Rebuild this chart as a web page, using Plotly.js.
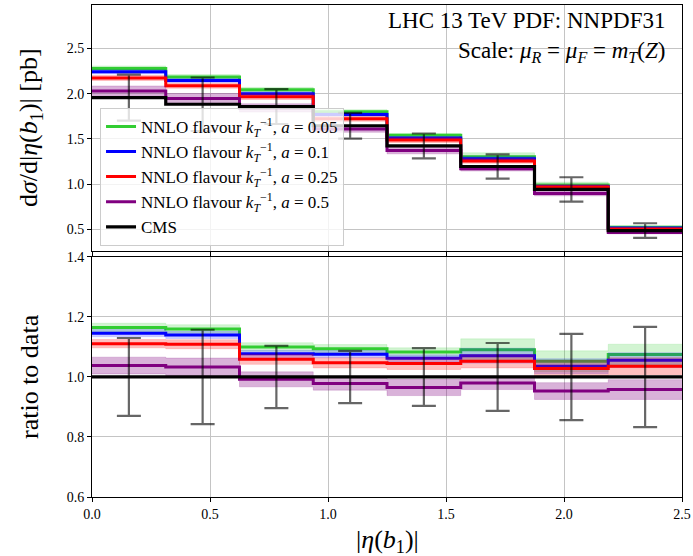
<!DOCTYPE html>
<html>
<head>
<meta charset="utf-8">
<script src="https://cdn.plot.ly/plotly-3.0.1.min.js"></script>
<style>html,body{margin:0;padding:0;background:#fff;}</style>
</head>
<body>
<div id="chart" style="width:693px;height:556px;"></div>
<script>
// bin edges in |eta(b1)|
var edges = [0, 0.3125, 0.625, 0.9375, 1.25, 1.5625, 1.875, 2.1875, 2.5];
// CMS data [pb] and absolute uncertainty [pb]
var cms    = [1.956, 1.883, 1.857, 1.645, 1.422, 1.194, 0.940, 0.485];
var cmsErr = [0.254, 0.296, 0.193, 0.143, 0.137, 0.135, 0.135, 0.081];
// predictions as ratio to data
var ratioA005 = [1.165, 1.160, 1.100, 1.094, 1.083, 1.091, 1.052, 1.075];
var ratioA01  = [1.146, 1.140, 1.077, 1.076, 1.062, 1.071, 1.036, 1.056];
var ratioA025 = [1.111, 1.109, 1.059, 1.047, 1.045, 1.052, 1.028, 1.036];
var ratioA05  = [1.038, 1.033, 0.992, 0.978, 0.965, 0.980, 0.953, 0.958];
// half-width of the uncertainty bands (ratio units)
var bandA005 = [0.014, 0.014, 0.014, 0.014, 0.014, 0.036, 0.035, 0.034];
var bandA01  = [0.012, 0.012, 0.012, 0.012, 0.012, 0.025, 0.025, 0.025];
var bandA025 = [0.014, 0.015, 0.017, 0.017, 0.020, 0.022, 0.028, 0.028];
var bandA05  = [0.028, 0.030, 0.025, 0.022, 0.027, 0.022, 0.028, 0.033];
var labels = [
  'NNLO flavour <i>k</i><sub><i>T</i></sub><sup>\u22121</sup>, <i>a</i> = 0.05',
  'NNLO flavour <i>k</i><sub><i>T</i></sub><sup>\u22121</sup>, <i>a</i> = 0.1',
  'NNLO flavour <i>k</i><sub><i>T</i></sub><sup>\u22121</sup>, <i>a</i> = 0.25',
  'NNLO flavour <i>k</i><sub><i>T</i></sub><sup>\u22121</sup>, <i>a</i> = 0.5',
  'CMS'
];

var models = [
  {r: ratioA005, b: bandA005, color: 'rgb(50,205,50)', fill: 'rgba(50,205,50,0.22)'},
  {r: ratioA01,  b: bandA01,  color: 'rgb(0,0,255)',   fill: 'rgba(0,0,255,0.2)'},
  {r: ratioA025, b: bandA025, color: 'rgb(255,0,0)',   fill: 'rgba(255,0,0,0.25)'},
  {r: ratioA05,  b: bandA05,  color: 'rgb(128,0,128)', fill: 'rgba(128,0,128,0.3)'}
];

function stepY(arr){ return arr.concat([arr[arr.length-1]]); }
var centers = [];
for (var i = 0; i < edges.length-1; i++) centers.push((edges[i]+edges[i+1])/2);

var FONT = 'Liberation Serif, Times New Roman, serif';
var traces = [];
['top','bottom'].forEach(function(panel){
  var xa = panel === 'top' ? 'x' : 'x2';
  var ya = panel === 'top' ? 'y' : 'y2';
  var scale = function(v, i){ return panel === 'top' ? v*cms[i] : v; };
  models.forEach(function(m, k){
    var lo = m.r.map(function(v,i){ return scale(v - m.b[i], i); });
    var hi = m.r.map(function(v,i){ return scale(v + m.b[i], i); });
    var mid = m.r.map(function(v,i){ return scale(v, i); });
    traces.push({x: edges, y: stepY(lo), xaxis: xa, yaxis: ya, mode: 'lines',
      line: {shape: 'hv', width: 0.6, color: m.fill}, showlegend: false, hoverinfo: 'skip'});
    traces.push({x: edges, y: stepY(hi), xaxis: xa, yaxis: ya, mode: 'lines', fill: 'tonexty',
      fillcolor: m.fill, line: {shape: 'hv', width: 0.6, color: m.fill}, showlegend: false, hoverinfo: 'skip'});
    traces.push({x: edges, y: stepY(mid), xaxis: xa, yaxis: ya, mode: 'lines',
      line: {shape: 'hv', width: 3, color: m.color}, name: labels[k],
      showlegend: panel === 'top', legendgroup: 'm'+k});
  });
  var dataY = cms.map(function(v,i){ return panel === 'top' ? v : v/cms[i]; });
  traces.push({x: edges, y: stepY(dataY), xaxis: xa, yaxis: ya, mode: 'lines',
    line: {shape: 'hv', width: 3.2, color: '#000'}, name: labels[4],
    showlegend: panel === 'top', legendgroup: 'cms'});
  var errY = cmsErr.map(function(e,i){ return panel === 'top' ? e : e/cms[i]; });
  traces.push({x: centers, y: dataY, xaxis: xa, yaxis: ya, mode: 'markers',
    marker: {size: 1, color: 'rgba(0,0,0,0)'}, showlegend: false,
    error_y: {type: 'data', array: errY, visible: true, color: 'rgba(0,0,0,0.6)', thickness: 2.2, width: 12}});
});

var axisCommon = {
  showline: true, linecolor: '#000', linewidth: 1, mirror: true,
  ticks: 'outside', ticklen: 4, tickcolor: '#000', tickwidth: 1,
  showgrid: true, gridcolor: '#c4c4c4', gridwidth: 1, zeroline: false,
  tickfont: {family: FONT, size: 14, color: '#000'}
};
function ax(extra){ var o = {}; for (var k in axisCommon) o[k] = axisCommon[k]; for (var k2 in extra) o[k2] = extra[k2]; return o; }

var layout = {
  width: 693, height: 556,
  margin: {l: 92, r: 11, t: 5, b: 59},
  paper_bgcolor: '#fff', plot_bgcolor: '#fff',
  font: {family: FONT, color: '#000'},
  xaxis: ax({domain: [0,1], range: [0, 2.5], anchor: 'y', showticklabels: false, tickvals: [0,0.5,1,1.5,2,2.5]}),
  yaxis: ax({domain: [0.5, 1], range: [0.259, 2.981], anchor: 'x', tickvals: [0.5,1,1.5,2,2.5], tickformat: '.1f'}),
  xaxis2: ax({domain: [0,1], range: [0, 2.5], anchor: 'y2', tickvals: [0,0.5,1,1.5,2,2.5], tickformat: '.1f'}),
  yaxis2: ax({domain: [0, 0.488], range: [0.6, 1.4], anchor: 'x2', tickvals: [0.6,0.8,1.0,1.2,1.4], tickformat: '.1f'}),
  showlegend: true,
  legend: {x: 0.0136, y: 0.791, xanchor: 'left', yanchor: 'top', bgcolor: 'rgba(255,255,255,0.8)',
    bordercolor: '#cccccc', borderwidth: 1, font: {family: FONT, size: 17, color: '#000'}, traceorder: 'normal'},
  annotations: [
    {xref: 'paper', yref: 'paper', x: 0.9754, y: 0.969, xanchor: 'right', yanchor: 'middle', showarrow: false,
     text: 'LHC 13 TeV PDF: NNPDF31', font: {family: FONT, size: 23, color: '#000'}},
    {xref: 'paper', yref: 'paper', x: 0.9754, y: 0.905, xanchor: 'right', yanchor: 'middle', showarrow: false,
     text: 'Scale: <i>\u03bc</i><sub><i>R</i></sub> = <i>\u03bc</i><sub><i>F</i></sub> = <i>m</i><sub><i>T</i></sub>(<i>Z</i>)',
     font: {family: FONT, size: 23, color: '#000'}},
    {xref: 'paper', yref: 'paper', x: -0.105, y: 0.75, xanchor: 'center', yanchor: 'middle', showarrow: false, textangle: -90,
     text: 'd<i>\u03c3</i>/d|<i>\u03b7</i>(<i>b</i><sub>1</sub>)| [pb]', font: {family: FONT, size: 26, color: '#000'}},
    {xref: 'paper', yref: 'paper', x: -0.105, y: 0.244, xanchor: 'center', yanchor: 'middle', showarrow: false, textangle: -90,
     text: 'ratio to data', font: {family: FONT, size: 26, color: '#000'}},
    {xref: 'paper', yref: 'paper', x: 0.5, y: -0.09, xanchor: 'center', yanchor: 'middle', showarrow: false,
     text: '|<i>\u03b7</i>(<i>b</i><sub>1</sub>)|', font: {family: FONT, size: 26, color: '#000'}}
  ]
};

Plotly.newPlot('chart', traces, layout, {staticPlot: true, displayModeBar: false});
</script>
</body>
</html>
